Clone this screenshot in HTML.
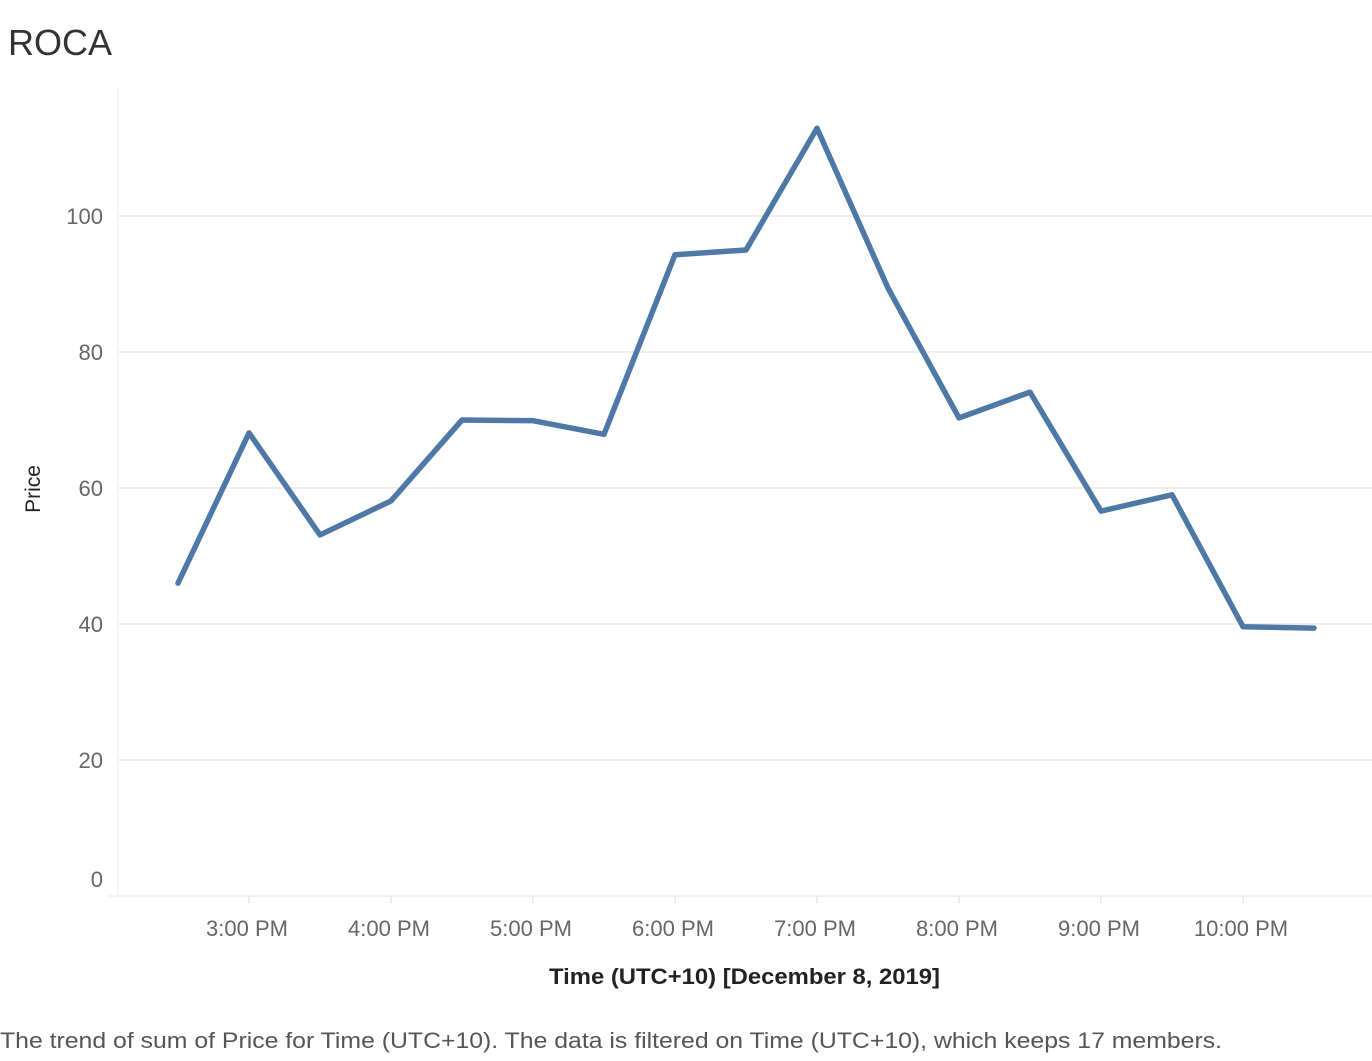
<!DOCTYPE html>
<html><head><meta charset="utf-8"><style>
body{margin:0;background:#fff;font-family:"Liberation Sans",sans-serif;}
svg text{font-family:"Liberation Sans",sans-serif;}
</style></head><body>
<svg id="chart" width="1372" height="1056">
<text x="8" y="55" font-size="36" fill="#333">ROCA</text>
<g id="grid"></g>
<line x1="118" y1="88" x2="118" y2="896" stroke="#eee"/>
<line x1="108" y1="896" x2="1372" y2="896" stroke="#e6e6e6"/>
<g id="yticks"></g>
<g id="xticks"></g>
<text transform="translate(40,489) rotate(-90)" text-anchor="middle" font-size="21" fill="#222">Price</text>
<text x="549" y="984" font-size="22" fill="#222" font-weight="600" textLength="391" lengthAdjust="spacingAndGlyphs">Time (UTC+10) [December 8, 2019]</text>
<path id="line" fill="none" stroke="#4e79a7" stroke-width="5.5" stroke-linejoin="round" stroke-linecap="round"/>
<text x="0" y="1048" font-size="22" fill="#555" textLength="1222" lengthAdjust="spacingAndGlyphs">The trend of sum of Price for Time (UTC+10). The data is filtered on Time (UTC+10), which keeps 17 members.</text>
</svg>
<script>
const times = [14.5,15,15.5,16,16.5,17,17.5,18,18.5,19,19.5,20,20.5,21,21.5,22,22.5];
const prices = [46,68.1,53.1,58.1,70,69.9,67.9,94.3,95,112.9,89.4,70.3,74.1,56.6,59,39.6,39.4];
const yTicks = [0,20,40,60,80,100];
const xTickHours = [15,16,17,18,19,20,21,22];
const xTickLabels = ["3:00 PM","4:00 PM","5:00 PM","6:00 PM","7:00 PM","8:00 PM","9:00 PM","10:00 PM"];
const NS="http://www.w3.org/2000/svg";
function xs(h){return 249+(h-15)*142;}
function ys(v){return 896-v*6.8;}
const grid=document.getElementById('grid'), yt=document.getElementById('yticks'), xt=document.getElementById('xticks');
yTicks.forEach(v=>{
  if(v>0){const l=document.createElementNS(NS,'line');
  l.setAttribute('x1',118);l.setAttribute('x2',1372);l.setAttribute('y1',ys(v));l.setAttribute('y2',ys(v));l.setAttribute('stroke','#efefef');l.setAttribute('stroke-width','2');
  
  
  grid.appendChild(l);}
  const t=document.createElementNS(NS,'text');
  t.setAttribute('x',103);t.setAttribute('y',(v===0?ys(v)-17:ys(v))+8);t.setAttribute('text-anchor','end');t.setAttribute('font-size','22');t.setAttribute('fill','#666');
  t.textContent=v;
  
  
  yt.appendChild(t);
});
xTickHours.forEach((h,i)=>{
  const l=document.createElementNS(NS,'line');
  l.setAttribute('x1',xs(h));l.setAttribute('x2',xs(h));l.setAttribute('y1',896);l.setAttribute('y2',903);l.setAttribute('stroke','#ddd');
  
  
  xt.appendChild(l);
  const t=document.createElementNS(NS,'text');
  t.setAttribute('x',xs(h)-2);t.setAttribute('y',936);t.setAttribute('text-anchor','middle');t.setAttribute('font-size','22');t.setAttribute('fill','#666');
  t.textContent=xTickLabels[i];
  
  
  xt.appendChild(t);
});
document.getElementById('line').setAttribute('d',times.map((h,i)=>(i?'L':'M')+xs(h)+','+ys(prices[i])).join(' '));
</script>
</body></html>
